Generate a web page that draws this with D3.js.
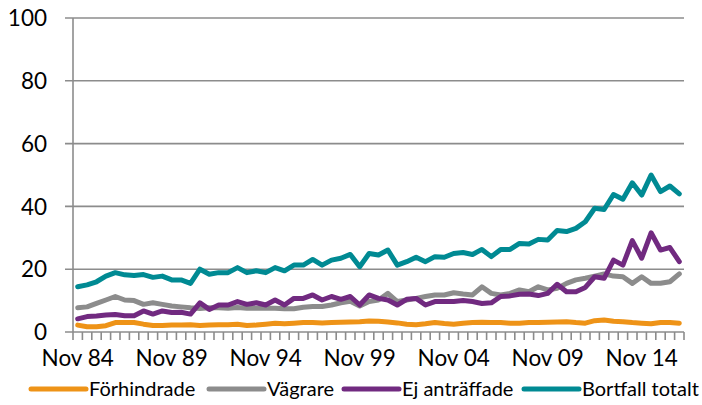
<!DOCTYPE html>
<html>
<head>
<meta charset="utf-8">
<script src="https://cdn.jsdelivr.net/npm/d3@7"></script>
<style>
  body { margin: 0; background: #fff; }
  svg { display: block; font-family: Lato, "Open Sans", sans-serif; }
</style>
</head>
<body>
<svg id="chart" width="702" height="405"></svg>
<script>
// half-year periods, Nov 84 .. Nov 16
const periods = [];
for (let y = 1984; y <= 2016; y++) {
  if (y > 1984) periods.push('Maj ' + String(y).slice(2));
  periods.push('Nov ' + String(y).slice(2));
}

const tickLabels = ['Nov 84', 'Nov 89', 'Nov 94', 'Nov 99', 'Nov 04', 'Nov 09', 'Nov 14'];
const yTicks = [0, 20, 40, 60, 80, 100];

const forhindrade = [2.2, 1.7, 1.7, 2.0, 3.0, 3.0, 3.0, 2.5, 2.1, 2.1, 2.2, 2.2, 2.3, 2.1, 2.2, 2.3, 2.3, 2.5, 2.1, 2.2, 2.5, 2.8,
  2.6, 2.8, 3.0, 3.0, 2.9, 3.0, 3.1, 3.2, 3.3, 3.5, 3.4, 3.2, 2.9, 2.5, 2.3, 2.6, 3.0, 2.7, 2.5, 2.8, 3.0, 3.1,
  3.0, 3.0, 2.8, 2.8, 3.0, 3.0, 3.1, 3.2, 3.3, 3.0, 2.8, 3.6, 3.8, 3.4, 3.3, 3.0, 2.8, 2.6, 3.0, 3.0, 2.8];

const vagrare = [7.7, 8.0, 9.1, 10.2, 11.3, 10.2, 10.0, 8.8, 9.3, 8.8, 8.3, 8.0, 7.7, 7.5, 7.7, 7.7, 7.6, 7.8, 7.6, 7.6, 7.6, 7.6,
  7.4, 7.4, 7.9, 8.1, 8.1, 8.6, 9.3, 9.8, 8.3, 9.7, 10.2, 12.3, 9.7, 10.2, 10.7, 11.3, 11.8, 11.8, 12.5, 12.1, 11.8, 14.4,
  12.3, 11.8, 12.3, 13.4, 12.8, 14.4, 13.4, 13.9, 15.5, 16.6, 17.1, 17.8, 18.5, 17.8, 17.6, 15.5, 17.6, 15.5, 15.5, 16.0, 18.5];

const ejAntraffade = [4.2, 4.9, 5.1, 5.4, 5.6, 5.2, 5.2, 6.7, 5.7, 6.7, 6.2, 6.3, 5.7, 9.3, 7.2, 8.6, 8.6, 9.7, 8.8, 9.3, 8.6, 10.2,
  8.6, 10.7, 10.7, 11.8, 10.2, 11.3, 10.4, 11.3, 8.6, 11.8, 10.7, 10.2, 8.6, 10.4, 10.7, 8.6, 9.7, 9.7, 9.7, 10.0, 9.7, 9.1,
  9.3, 11.3, 11.5, 12.0, 12.1, 11.6, 12.3, 15.2, 12.8, 12.8, 14.2, 17.6, 17.1, 22.9, 21.3, 29.1, 23.5, 31.6, 26.1, 26.9, 22.4];

const bortfallTotalt = [14.4, 15.0, 16.0, 17.8, 18.9, 18.2, 18.0, 18.3, 17.4, 17.8, 16.6, 16.6, 15.5, 20.0, 18.4, 18.9, 18.9, 20.5, 18.9, 19.5, 18.9, 20.5,
  19.5, 21.3, 21.3, 23.1, 21.3, 22.9, 23.5, 24.7, 20.8, 25.0, 24.5, 26.1, 21.3, 22.4, 23.8, 22.4, 24.0, 23.8, 25.0, 25.3, 24.7, 26.3,
  24.0, 26.3, 26.3, 28.2, 28.0, 29.5, 29.3, 32.3, 32.0, 33.0, 35.1, 39.4, 39.0, 43.8, 42.3, 47.5, 43.6, 50.0, 44.7, 46.5, 44.0];

const seriesNames = ['Förhindrade', 'Vägrare', 'Ej anträffade', 'Bortfall totalt'];
const seriesValues = [forhindrade, vagrare, ejAntraffade, bortfallTotalt];
const colors = ['#EE9317', '#8C8C8C', '#712A80', '#008A93'];

const svg = d3.select('#chart');
const gridColor = '#8c8c8c';

const x = d3.scaleBand().domain(periods).range([73, 684]).padding(0);
const y = d3.scaleLinear().domain([0, 100]).range([332, 18]);

// horizontal grid + left ticks
svg.append('g')
  .selectAll('line')
  .data(yTicks)
  .join('line')
  .attr('x1', 65)
  .attr('x2', 684)
  .attr('y1', d => y(d))
  .attr('y2', d => y(d))
  .attr('stroke', gridColor)
  .attr('stroke-width', 1.6);

svg.append('g')
  .selectAll('text')
  .data(yTicks)
  .join('text')
  .attr('x', 47)
  .attr('y', d => y(d))
  .attr('dy', '0.36em')
  .attr('text-anchor', 'end')
  .attr('font-size', 22.5)
  .attr('fill', '#000')
  .text(d => d);

// y axis line
svg.append('line')
  .attr('x1', x.range()[0]).attr('x2', x.range()[0])
  .attr('y1', y(100)).attr('y2', y(0) + 8)
  .attr('stroke', gridColor)
  .attr('stroke-width', 1.6);

// category tick marks, one per period boundary
const bounds = periods.map(p => x(p)).concat([x.range()[1]]);
svg.append('g')
  .selectAll('line')
  .data(bounds.slice(1))
  .join('line')
  .attr('x1', d => d).attr('x2', d => d)
  .attr('y1', y(0)).attr('y2', y(0) + 8)
  .attr('stroke', gridColor)
  .attr('stroke-width', 1.6);

// x labels
svg.append('g')
  .selectAll('text')
  .data(tickLabels)
  .join('text')
  .attr('x', d => x(d) + x.bandwidth() / 2)
  .attr('y', 366)
  .attr('text-anchor', 'middle')
  .attr('font-size', 22.5)
  .attr('fill', '#000')
  .text(d => d);

// lines
const line = d3.line()
  .x((d, i) => x(periods[i]) + x.bandwidth() / 2)
  .y(d => y(d));

svg.append('g')
  .selectAll('path')
  .data(seriesValues)
  .join('path')
  .attr('d', d => line(d))
  .attr('fill', 'none')
  .attr('stroke', (d, i) => colors[i])
  .attr('stroke-width', 5)
  .attr('stroke-linejoin', 'round')
  .attr('stroke-linecap', 'round');

// legend
const legendX = [31, 209, 344, 524];
const legend = svg.append('g')
  .selectAll('g')
  .data(seriesNames)
  .join('g')
  .attr('transform', (d, i) => `translate(${legendX[i]},389)`);

legend.append('line')
  .attr('x1', 0).attr('x2', 55)
  .attr('stroke', (d, i) => colors[i])
  .attr('stroke-width', 5)
  .attr('stroke-linecap', 'round');

legend.append('text')
  .attr('x', 58)
  .attr('dy', '0.35em')
  .attr('font-size', 20)
  .attr('fill', '#000')
  .text(d => d);
</script>
</body>
</html>
